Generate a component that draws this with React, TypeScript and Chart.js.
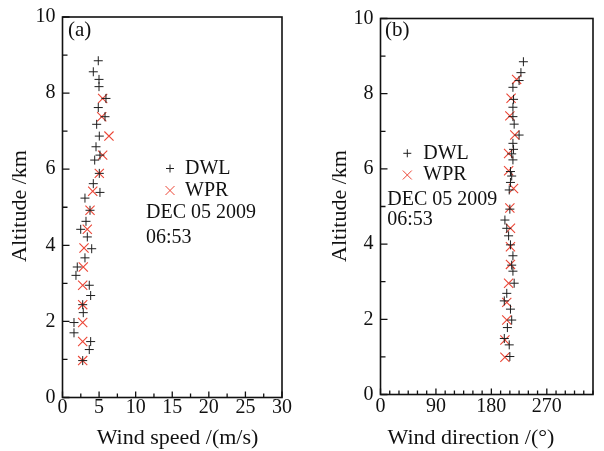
import React, { useEffect, useRef } from 'react';
import { Chart, registerables } from 'chart.js';

Chart.register(...registerables);

const FONT = '"Liberation Serif", "Times New Roman", serif';

// ---------- data ----------
const altitudeRange = [0, 10];
const speedRange = [0, 30];
const directionRange = [0, 345];
const directionTickStep = 90;
const speedTickStep = 5;
const altitudeTickStep = 2;

const seriesLabels = ['DWL', 'WPR'];
const annotationLines = ['DEC 05 2009', '06:53'];

// (a) wind speed
const dwlSpeedAltitude = [8.85, 8.56, 8.36, 8.17, 7.86, 7.62, 7.38, 7.18, 6.87, 6.59, 6.37, 6.24, 5.89, 5.62, 5.39, 5.24, 4.92, 4.63, 4.42, 4.22, 3.91, 3.67, 3.43, 3.21, 2.95, 2.68, 2.44, 2.23, 1.97, 1.70, 1.47, 1.26, 0.97];
const dwlSpeed = [4.89, 4.21, 4.99, 4.99, 5.94, 4.89, 5.81, 4.67, 5.03, 4.58, 5.12, 4.40, 5.03, 4.21, 5.12, 3.07, 3.76, 3.21, 2.49, 3.39, 3.99, 3.07, 2.02, 1.84, 3.66, 3.85, 2.76, 2.84, 1.57, 1.57, 3.85, 3.66, 2.76];
const wprSpeedAltitude = [7.86, 7.38, 6.87, 6.37, 5.89, 5.42, 4.92, 4.42, 3.93, 3.43, 2.95, 2.44, 1.97, 1.47, 0.97];
const wprSpeed = [5.49, 5.36, 6.35, 5.49, 5.03, 4.13, 3.76, 3.39, 2.94, 2.84, 2.76, 2.76, 2.76, 2.76, 2.76];

// (b) wind direction
const dwlDirAltitude = [8.85, 8.56, 8.35, 8.17, 7.85, 7.64, 7.39, 7.19, 6.90, 6.68, 6.52, 6.40, 6.24, 5.93, 5.81, 5.64, 5.44, 4.93, 4.64, 4.42, 4.22, 3.98, 3.69, 3.44, 3.28, 2.96, 2.69, 2.49, 2.27, 1.98, 1.78, 1.49, 1.32, 1.01];
const dwlDir = [232, 228, 225, 215, 216, 215, 215, 217, 225, 215, 216, 213, 215, 211, 213, 211, 209, 210, 202, 205, 208, 211, 215, 213, 215, 217, 205, 201, 211, 213, 206, 201, 209, 210];
const wprDirAltitude = [8.38, 7.88, 7.41, 6.90, 6.41, 5.95, 5.48, 4.96, 4.42, 3.93, 3.46, 2.96, 2.45, 1.98, 1.45, 0.99];
const wprDir = [221, 212, 210, 218, 208, 208, 216, 210, 211, 211, 211, 208, 205, 205, 202, 202];

const DWL_COLOR = '#1e1e1e';
const WPR_COLOR = '#ec4636';
const INK = '#111111';

const toPoints = (xs: number[], ys: number[]) => xs.map((x, i) => ({ x, y: ys[i] }));

const overlayPlugin = {
  id: 'overlay',
  afterDraw(chart: any, _args: any, opts: any) {
    const { ctx, chartArea: a } = chart;
    const xs = chart.scales.x;
    const ys = chart.scales.y;
    ctx.save();
    // frame
    ctx.strokeStyle = INK;
    ctx.lineWidth = 1.6;
    ctx.strokeRect(a.left, a.top, a.right - a.left, a.bottom - a.top);
    // inward ticks
    ctx.lineWidth = 1.3;
    ctx.beginPath();
    for (let i = 0; ; i++) {
      const v = xs.min + i * opts.xMinor;
      if (v > xs.max + 1e-6) break;
      const px = xs.getPixelForValue(v);
      const major = Math.abs(v / opts.xMajor - Math.round(v / opts.xMajor)) < 1e-6;
      const len = major ? 6 : 4;
      ctx.moveTo(px, a.bottom);
      ctx.lineTo(px, a.bottom - len);
    }
    for (let i = 0; ; i++) {
      const v = ys.min + i * 1;
      if (v > ys.max + 1e-6) break;
      const py = ys.getPixelForValue(v);
      const major = Math.abs(v / 2 - Math.round(v / 2)) < 1e-6;
      const len = major ? 7 : 5;
      ctx.moveTo(a.left, py);
      ctx.lineTo(a.left + len, py);
    }
    ctx.stroke();

    // axis titles
    ctx.fillStyle = INK;
    ctx.font = `22px ${FONT}`;
    ctx.textAlign = 'center';
    ctx.textBaseline = 'middle';
    ctx.fillText(opts.xTitle, opts.xTitleX, opts.xTitleY);
    ctx.save();
    ctx.translate(opts.yTitleX, opts.yTitleY);
    ctx.rotate(-Math.PI / 2);
    ctx.fillText(opts.yTitle, 0, 0);
    ctx.restore();

    // panel label
    ctx.textAlign = 'left';
    ctx.font = `21px ${FONT}`;
    ctx.fillText(opts.panel, opts.panelX, opts.panelY);

    // legend
    ctx.font = `20px ${FONT}`;
    const ds = chart.data.datasets;
    const lg = opts.legend;
    // DWL plus
    ctx.strokeStyle = ds[0].borderColor;
    ctx.lineWidth = 1;
    ctx.beginPath();
    ctx.moveTo(lg.mx - 4, lg.y1);
    ctx.lineTo(lg.mx + 4, lg.y1);
    ctx.moveTo(lg.mx, lg.y1 - 4);
    ctx.lineTo(lg.mx, lg.y1 + 4);
    ctx.stroke();
    // WPR cross
    ctx.strokeStyle = ds[1].borderColor;
    ctx.beginPath();
    ctx.moveTo(lg.mx - 4.5, lg.y2 - 4.5);
    ctx.lineTo(lg.mx + 4.5, lg.y2 + 4.5);
    ctx.moveTo(lg.mx + 4.5, lg.y2 - 4.5);
    ctx.lineTo(lg.mx - 4.5, lg.y2 + 4.5);
    ctx.stroke();
    ctx.fillStyle = INK;
    ctx.fillText(ds[0].label, lg.tx, lg.y1);
    ctx.fillText(ds[1].label, lg.tx, lg.y2);
    ctx.fillText(annotationLines[0], lg.dx, lg.d1);
    ctx.fillText(annotationLines[1], lg.dx, lg.d2);
    ctx.restore();
  },
};

function makeConfig(p: any): any {
  return {
    type: 'scatter',
    data: {
      datasets: [
        {
          label: seriesLabels[0],
          data: p.dwl,
          pointStyle: 'cross',
          radius: 4.5,
          borderWidth: 1,
          borderColor: DWL_COLOR,
          backgroundColor: 'rgba(0,0,0,0)',
        },
        {
          label: seriesLabels[1],
          data: p.wpr,
          pointStyle: 'crossRot',
          radius: 6.5,
          borderWidth: 1.1,
          borderColor: WPR_COLOR,
          backgroundColor: 'rgba(0,0,0,0)',
        },
      ],
    },
    options: {
      responsive: false,
      animation: false,
      events: [],
      layout: { padding: { top: p.top, right: p.right, left: 0, bottom: 0 } },
      plugins: {
        legend: { display: false },
        tooltip: { enabled: false },
        overlay: p.overlay,
      },
      scales: {
        x: {
          type: 'linear',
          min: p.xRange[0],
          max: p.xRange[1],
          grid: { display: false, drawTicks: false },
          border: { display: false },
          ticks: {
            stepSize: p.xStep,
            includeBounds: false,
            autoSkip: false,
            maxRotation: 0,
            padding: p.xTickPad,
            color: INK,
            font: { family: FONT, size: 20, lineHeight: 1 },
          },
          afterFit: (s: any) => {
            s.height = p.xAxisHeight;
          },
        },
        y: {
          type: 'linear',
          min: altitudeRange[0],
          max: altitudeRange[1],
          grid: { display: false, drawTicks: false },
          border: { display: false },
          ticks: {
            stepSize: altitudeTickStep,
            padding: 7,
            color: INK,
            font: { family: FONT, size: 20, lineHeight: 1 },
          },
          afterFit: (s: any) => {
            s.width = p.yAxisWidth;
          },
        },
      },
    },
    plugins: [overlayPlugin],
  };
}

export default function App() {
  const leftRef = useRef<HTMLCanvasElement>(null);
  const rightRef = useRef<HTMLCanvasElement>(null);

  useEffect(() => {
    const left = new Chart(
      leftRef.current as HTMLCanvasElement,
      makeConfig({
        dwl: toPoints(dwlSpeed, dwlSpeedAltitude),
        wpr: toPoints(wprSpeed, wprSpeedAltitude),
        xRange: speedRange,
        xStep: speedTickStep,
        top: 17,
        right: 18,
        yAxisWidth: 62.5,
        xAxisHeight: 53.5,
        xTickPad: 0,
        overlay: {
          xMinor: 2.5,
          xMajor: 5,
          xTitle: 'Wind speed /(m/s)',
          xTitleX: 177.5,
          xTitleY: 438,
          yTitle: 'Altitude /km',
          yTitleX: 20,
          yTitleY: 206,
          panel: '(a)',
          panelX: 68,
          panelY: 30,
          legend: { mx: 170, tx: 185, y1: 168.5, y2: 190.5, dx: 146, d1: 212.5, d2: 237.5 },
        },
      })
    );
    const right = new Chart(
      rightRef.current as HTMLCanvasElement,
      makeConfig({
        dwl: toPoints(dwlDir, dwlDirAltitude),
        wpr: toPoints(wprDir, wprDirAltitude),
        xRange: directionRange,
        xStep: directionTickStep,
        top: 18.5,
        right: 11,
        yAxisWidth: 80.5,
        xAxisHeight: 56.5,
        xTickPad: 2,
        overlay: {
          xMinor: 15,
          xMajor: 90,
          xTitle: 'Wind direction /(°)',
          xTitleX: 171,
          xTitleY: 438,
          yTitle: 'Altitude /km',
          yTitleX: 40,
          yTitleY: 206,
          panel: '(b)',
          panelX: 85,
          panelY: 30,
          legend: { mx: 107.3, tx: 123.3, y1: 153.3, y2: 175, dx: 87.3, d1: 200, d2: 220 },
        },
      })
    );
    return () => {
      left.destroy();
      right.destroy();
    };
  }, []);

  return (
    <div style={{ position: 'fixed', left: 0, top: 0, width: 604, height: 451, background: '#ffffff' }}>
      <canvas
        ref={leftRef}
        width={300}
        height={451}
        style={{ position: 'absolute', left: 0, top: 0, width: 300, height: 451 }}
      />
      <canvas
        ref={rightRef}
        width={304}
        height={451}
        style={{ position: 'absolute', left: 300, top: 0, width: 304, height: 451 }}
      />
    </div>
  );
}
